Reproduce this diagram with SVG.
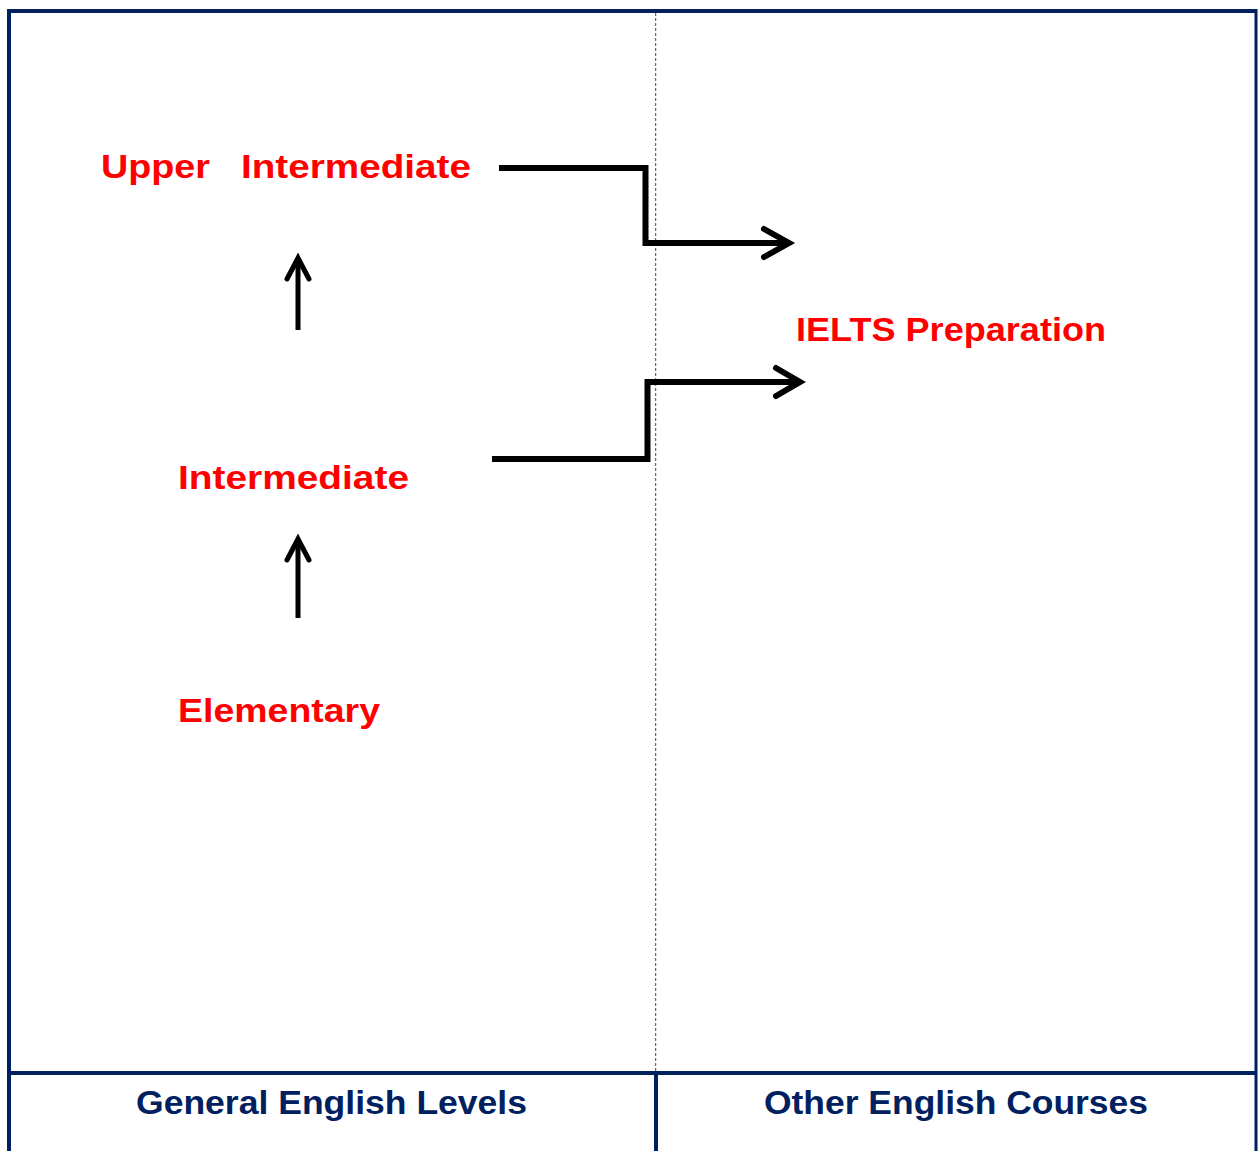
<svg xmlns="http://www.w3.org/2000/svg" width="1258" height="1151" viewBox="0 0 1258 1151">
<defs>
<style>
.frame{stroke:#002060;stroke-width:4;fill:none}
.lbl{font-family:"Liberation Sans","Open Sans",Arial,sans-serif;font-weight:bold;font-size:34px;fill:#ff0000}
.hdr{font-family:"Liberation Sans","Open Sans",Arial,sans-serif;font-weight:bold;font-size:34px;fill:#002060}
.conn{stroke:#000;stroke-width:6;fill:none;stroke-linejoin:miter}
.head{stroke:#000;stroke-width:6;fill:none;stroke-linecap:round;stroke-linejoin:miter}
.up{stroke:#000;stroke-width:5;fill:none}
.uphead{stroke:#000;stroke-width:5;fill:none;stroke-linecap:round}
</style>
</defs>
<rect width="1258" height="1151" fill="#ffffff"/>
<g id="frame">
<line class="frame" x1="9" y1="11" x2="1256" y2="11"/>
<line class="frame" x1="9" y1="9" x2="9" y2="1151"/>
<line class="frame" x1="1256" y1="9" x2="1256" y2="1151" style="stroke-width:3"/>
<line class="frame" x1="9" y1="1073" x2="1256" y2="1073"/>
<line class="frame" x1="656" y1="1073" x2="656" y2="1151"/>
<line x1="655.7" y1="13" x2="655.7" y2="1071" stroke="#444" stroke-width="1" stroke-dasharray="3,2"/>
</g>
<g id="node-upper"><text class="lbl" y="178"><tspan x="101" textLength="109" lengthAdjust="spacingAndGlyphs">Upper</tspan><tspan x="241" textLength="230" lengthAdjust="spacingAndGlyphs">Intermediate</tspan></text></g>
<g id="node-intermediate"><text class="lbl" x="178" y="489" textLength="231" lengthAdjust="spacingAndGlyphs">Intermediate</text></g>
<g id="node-elementary"><text class="lbl" x="178" y="722" textLength="202" lengthAdjust="spacingAndGlyphs">Elementary</text></g>
<g id="node-ielts"><text class="lbl" x="796" y="341" textLength="310" lengthAdjust="spacingAndGlyphs">IELTS Preparation</text></g>
<g id="header-general"><text class="hdr" x="136" y="1114" textLength="391" lengthAdjust="spacingAndGlyphs">General English Levels</text></g>
<g id="header-other"><text class="hdr" x="764" y="1114" textLength="384" lengthAdjust="spacingAndGlyphs">Other English Courses</text></g>
<g id="connectors">
<polyline class="conn" points="499,168 645.5,168 645.5,243 788,243"/>
<polyline class="head" points="764,229 789,243 764,257"/>
<polyline class="conn" points="492,459 647.5,459 647.5,382 799,382"/>
<polyline class="head" points="776,368 800,382 776,396"/>
<line class="up" x1="298" y1="330" x2="298" y2="259"/>
<polyline class="uphead" points="287,279 298,258 309,279"/>
<line class="up" x1="298" y1="618" x2="298" y2="540"/>
<polyline class="uphead" points="287,560 298,539 309,560"/>
</g>
</svg>
